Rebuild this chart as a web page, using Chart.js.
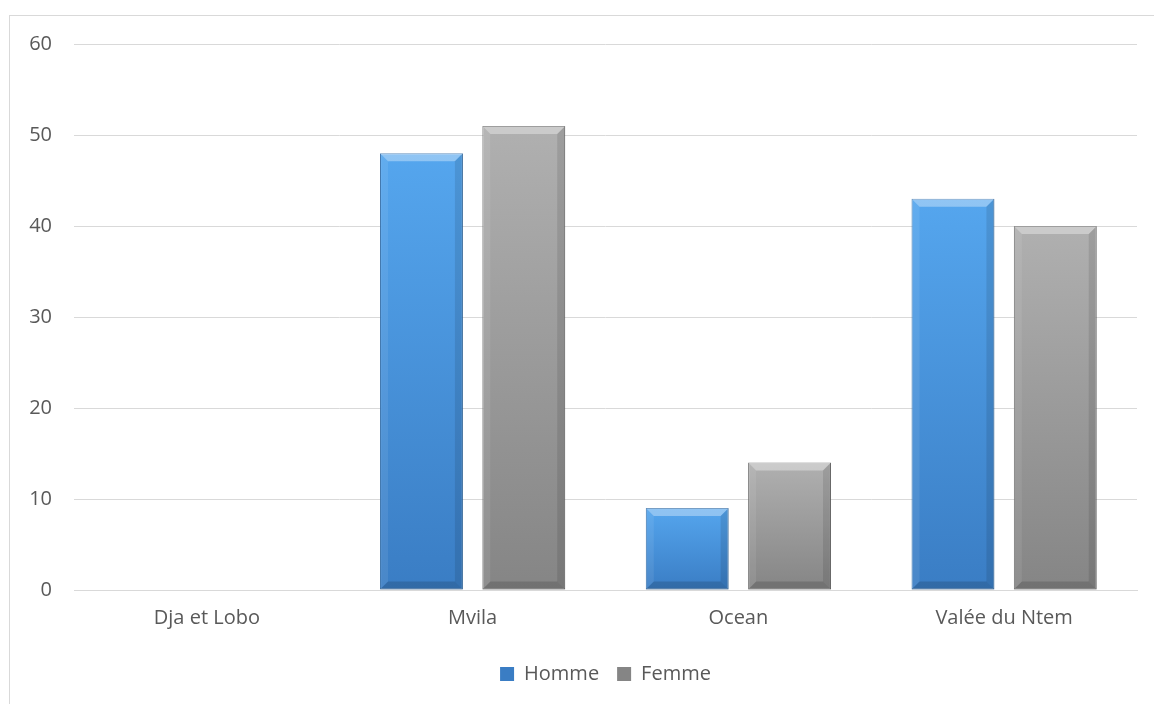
<!DOCTYPE html>
<html lang="fr">
<head>
<meta charset="UTF-8" />
<title>Homme / Femme par département</title>
<style>
  * {margin:0; padding:0; box-sizing:border-box;}
  html, body {width:1154px; height:704px; overflow:hidden; background:#fff;}
  .frame {position:absolute; left:9px; top:15px; width:1160px; height:720px; border:1px solid #d9d9d9;}
  .wrap {position:absolute; left:0; top:0; width:1154px; height:704px;}
</style>
</head>
<body>
<div class="frame"></div>
<div class="wrap"><canvas id="chart" width="1154" height="704"></canvas></div>

<script src="https://cdn.jsdelivr.net/npm/chart.js"></script>
<script>
  const categories = ['Dja et Lobo', 'Mvila', 'Ocean', 'Valée du Ntem'];
  const homme = [0, 48, 9, 43];
  const femme = [0, 51, 14, 40];
  const yTicks = [0, 10, 20, 30, 40, 50, 60];

  const FONT = "'Open Sans', sans-serif";
  const TEXT = '#595959';

  // per-bar vertical gradient, light on top
  function barFill(top, bottom) {
    return (ctx) => {
      const chart = ctx.chart;
      const y = chart.scales && chart.scales.y;
      if (!chart.chartArea || !y || ctx.type !== 'data') return bottom;
      const t = y.getPixelForValue(ctx.raw);
      const b = y.getPixelForValue(0);
      if (b - t < 1) return bottom;
      const g = chart.ctx.createLinearGradient(0, t, 0, b);
      g.addColorStop(0, top);
      g.addColorStop(1, bottom);
      return g;
    };
  }

  // bevel look of the office bars
  const bevel = {
    id: 'bevel',
    afterDatasetsDraw(chart) {
      const c = chart.ctx;
      chart.data.datasets.forEach((ds, i) => {
        chart.getDatasetMeta(i).data.forEach(bar => {
          const p = bar.getProps(['x', 'y', 'base', 'width'], true);
          const h = p.base - p.y;
          if (h < 2) return;
          const l = p.x - p.width / 2, r = p.x + p.width / 2;
          const b = Math.min(8, h / 2);
          c.save();
          c.fillStyle = 'rgba(255,255,255,0.35)';
          c.beginPath();
          c.moveTo(l, p.y); c.lineTo(r, p.y); c.lineTo(r - b, p.y + b); c.lineTo(l + b, p.y + b);
          c.closePath(); c.fill();
          c.fillStyle = 'rgba(255,255,255,0.08)';
          c.beginPath();
          c.moveTo(l, p.y); c.lineTo(l + b, p.y + b); c.lineTo(l + b, p.base - b); c.lineTo(l, p.base);
          c.closePath(); c.fill();
          c.fillStyle = 'rgba(0,0,0,0.10)';
          c.beginPath();
          c.moveTo(r, p.y); c.lineTo(r - b, p.y + b); c.lineTo(r - b, p.base - b); c.lineTo(r, p.base);
          c.closePath(); c.fill();
          c.fillStyle = 'rgba(0,0,0,0.15)';
          c.beginPath();
          c.moveTo(l, p.base); c.lineTo(r, p.base); c.lineTo(r - b, p.base - b); c.lineTo(l + b, p.base - b);
          c.closePath(); c.fill();
          c.restore();
        });
      });
    }
  };

  const zeroless = (w) => (ctx) => (ctx.raw ? w : 0);

  new Chart(document.getElementById('chart'), {
    type: 'bar',
    data: {
      labels: categories,
      datasets: [
        {
          label: 'Homme',
          data: homme,
          backgroundColor: barFill('#55a6ee', '#3a7dc4'),
          borderColor: '#2f6aa6',
          borderWidth: zeroless(1),
          borderSkipped: false,
          categoryPercentage: 0.77,
          barPercentage: 0.81
        },
        {
          label: 'Femme',
          data: femme,
          backgroundColor: barFill('#b0b0b0', '#858585'),
          borderColor: '#6a6a6a',
          borderWidth: zeroless(1),
          borderSkipped: false,
          categoryPercentage: 0.77,
          barPercentage: 0.81
        }
      ]
    },
    options: {
      responsive: false,
      animation: false,
      layout: {padding: {top: 44, right: 17, bottom: 10, left: 0}},
      plugins: {
        tooltip: {enabled: false},
        legend: {
          position: 'bottom',
          fullSize: false,
          labels: {
            color: TEXT,
            font: {family: FONT, size: 20},
            boxWidth: 14,
            boxHeight: 14,
            padding: 18
          }
        }
      },
      scales: {
        y: {
          min: 0,
          max: 60,
          afterBuildTicks: (s) => { s.ticks = yTicks.map(v => ({value: v})); },
          afterFit: (s) => { s.width = 74; },
          ticks: {color: TEXT, font: {family: FONT, size: 20}, padding: 22},
          grid: {color: '#d9d9d9', drawTicks: false},
          border: {display: false}
        },
        x: {
          ticks: {color: TEXT, font: {family: FONT, size: 20}, padding: 16},
          grid: {display: false, drawTicks: false},
          border: {color: '#d9d9d9'}
        }
      }
    },
    plugins: [bevel]
  });
</script>
</body>
</html>
